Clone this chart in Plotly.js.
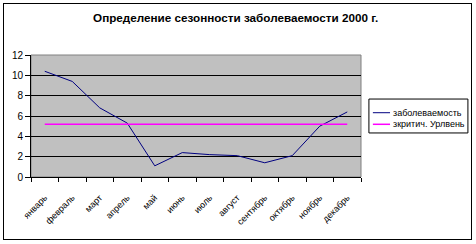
<!DOCTYPE html>
<html><head><meta charset="utf-8">
<script src="https://cdn.plot.ly/plotly-3.0.1.min.js"></script>
<style>body{margin:0;padding:0;background:#fff}#c{position:absolute;left:0;top:0;width:476px;height:244px}#b{position:absolute;left:3px;top:3px;width:467px;height:235px;border:1px solid #000;pointer-events:none}</style>
</head><body><div id="c"></div><div id="b"></div>
<script>
const months = ["январь","февраль","март","апрель","май","июнь","июль","август","сентябрь","октябрь","ноябрь","декабрь"];
const incidence = [10.4, 9.4, 6.8, 5.3, 1.1, 2.4, 2.2, 2.1, 1.4, 2.1, 5.0, 6.4];
const critical = [5.2, 5.2, 5.2, 5.2, 5.2, 5.2, 5.2, 5.2, 5.2, 5.2, 5.2, 5.2];
const seriesNames = ["заболеваемость", "зкритич. Урлвень"];
const seriesColors = ["#000080", "#FF00FF"];
const yTicks = [0, 2, 4, 6, 8, 10, 12];

const font = "Liberation Sans, Arial, sans-serif";
const data = [
  {x: months, y: incidence, type: "scatter", mode: "lines", name: seriesNames[0], line: {color: seriesColors[0], width: 1}},
  {x: months, y: critical, type: "scatter", mode: "lines", name: seriesNames[1], line: {color: seriesColors[1], width: 1.5}}
];
// custom legend (box, sample lines, labels) in paper coordinates
const legBox = {x0: 1.024, x1: 1.324, y0: 0.361, y1: 0.639};
const legRows = [0.527, 0.432];
const shapes = [
  {type: "rect", xref: "paper", yref: "paper", x0: 0, x1: 1, y0: 0, y1: 1, line: {color: "#808080", width: 1}, layer: "below"},
  {type: "rect", xref: "paper", yref: "paper", x0: legBox.x0, x1: legBox.x1, y0: legBox.y0, y1: legBox.y1, line: {color: "#000", width: 1}, fillcolor: "#fff"}
];
const annotations = [];
seriesNames.forEach((n, i) => {
  shapes.push({type: "line", xref: "paper", yref: "paper", x0: 1.036, x1: 1.088, y0: legRows[i], y1: legRows[i], line: {color: seriesColors[i], width: i ? 1.5 : 1}});
  annotations.push({xref: "paper", yref: "paper", x: 1.09, y: legRows[i], xanchor: "left", yanchor: "middle", showarrow: false, text: n, font: {family: font, size: 9, color: "#000"}});
});
const layout = {
  width: 476, height: 244,
  margin: {l: 31, r: 115, t: 55, b: 67},
  paper_bgcolor: "#fff", plot_bgcolor: "#C0C0C0",
  title: {text: "Определение сезонности заболеваемости 2000 г.", font: {family: font, size: 11.7, color: "#000", weight: "bold"}, x: 0.495, xanchor: "center", y: 0.925, yanchor: "middle"},
  xaxis: {type: "category", range: [-0.5, 11.5], tickson: "boundaries", ticks: "outside", ticklen: 4, tickcolor: "#000",
    tickangle: -45, ticklabelstandoff: 11, tickfont: {family: font, size: 9, color: "#000"}, showgrid: false, showline: true, linecolor: "#000", linewidth: 1, zeroline: false, fixedrange: true},
  yaxis: {range: [0, 12], tickvals: yTicks, ticks: "outside", ticklen: 5, tickcolor: "#000", tickfont: {family: font, size: 10, color: "#000"},
    showgrid: true, gridcolor: "#000", gridwidth: 1, showline: true, linecolor: "#000", zeroline: false, fixedrange: true},
  shapes: shapes,
  annotations: annotations,
  showlegend: false
};
Plotly.newPlot("c", data, layout, {displayModeBar: false, staticPlot: true});
</script></body></html>
